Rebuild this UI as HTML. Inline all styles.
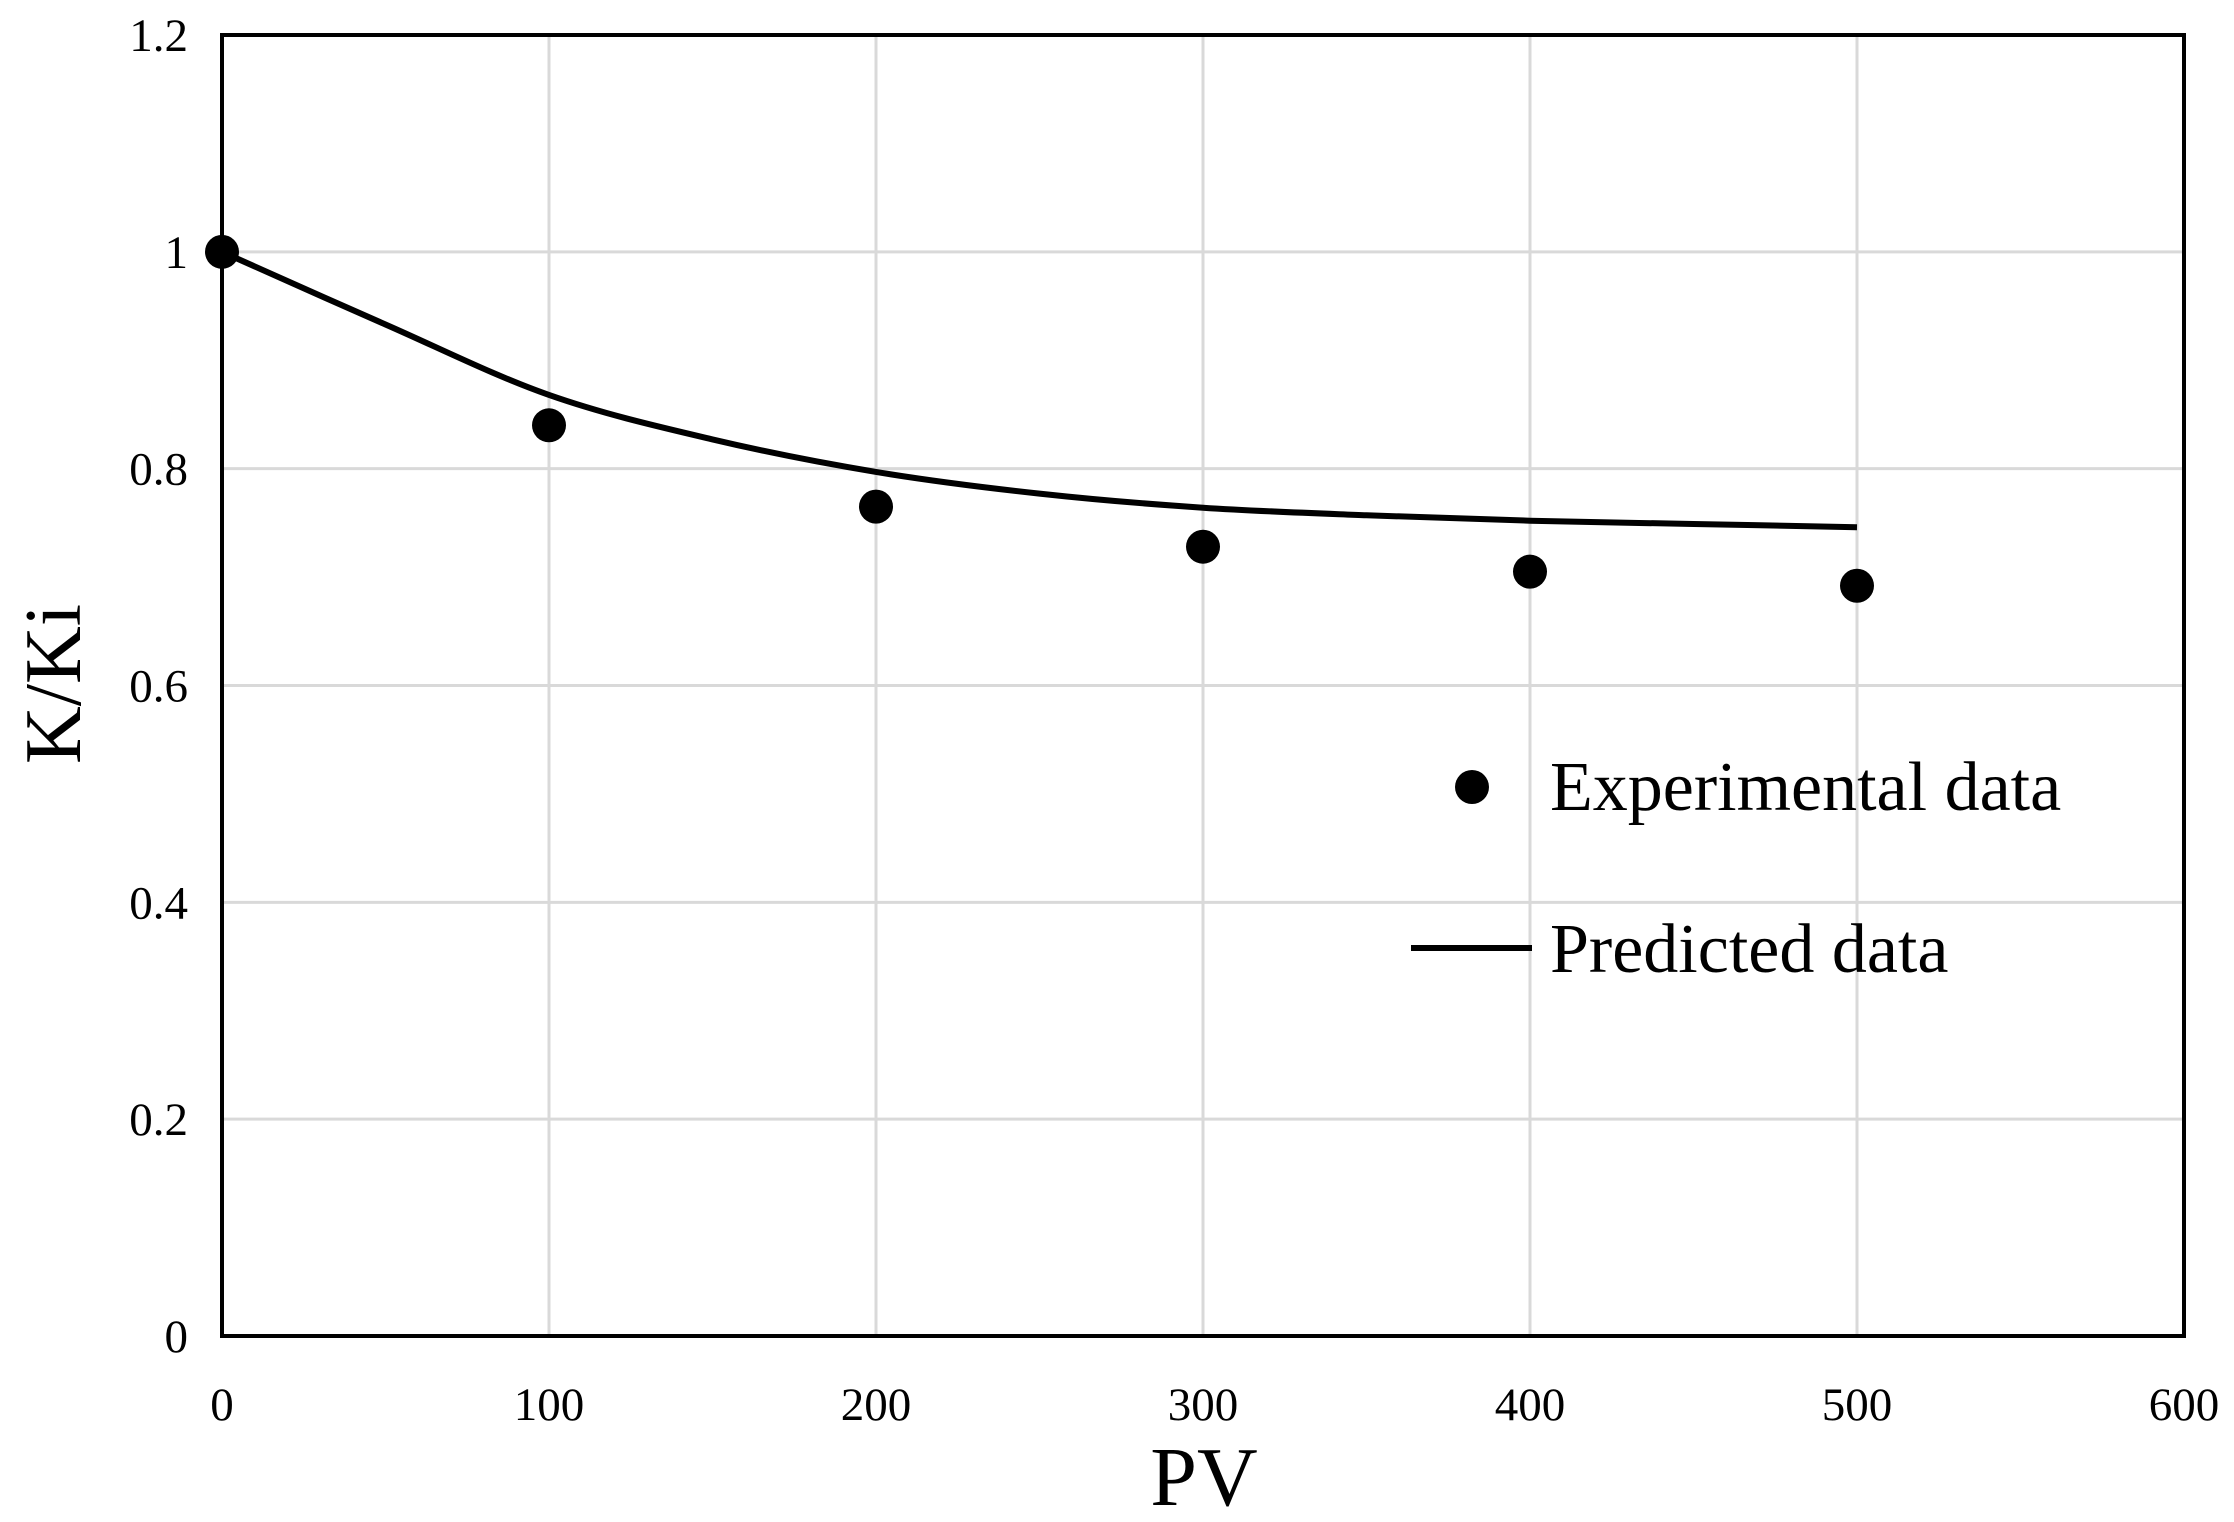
<!DOCTYPE html>
<html><head><meta charset="utf-8"><style>
html,body{margin:0;padding:0;background:#fff;}
svg{display:block;font-family:"Liberation Serif",serif;}
</style></head><body>
<svg id="chart" width="2234" height="1522" viewBox="0 0 2234 1522" xmlns="http://www.w3.org/2000/svg">
<rect width="2234" height="1522" fill="#fff"/>
<g id="grid"></g>
<g id="ticks"></g>
<g id="series"></g>
<rect x="222" y="35" width="1962" height="1301" fill="none" stroke="#000" stroke-width="4"/>
<text x="1204" y="1505" font-size="84" text-anchor="middle">PV</text>
<text transform="translate(80,684) rotate(-90)" font-size="80" text-anchor="middle">K/Ki</text>
<g>
<circle cx="1472" cy="787" r="17" fill="#000"/>
<text x="1550" y="810" font-size="70">Experimental data</text>
<line x1="1411" y1="948" x2="1532" y2="948" stroke="#000" stroke-width="6"/>
<text x="1550" y="972" font-size="70">Predicted data</text>
</g>
</svg>
<script>
const xTicks=[0,100,200,300,400,500,600];
const yTicks=[0,0.2,0.4,0.6,0.8,1,1.2];
const yTickLabels=["0","0.2","0.4","0.6","0.8","1","1.2"];
const expX=[0,100,200,300,400,500];
const expY=[1.0,0.84,0.765,0.728,0.705,0.692];
const predX=[0,50,100,150,200,250,300,350,400,450,500];
const predY=[1.0,0.933,0.868,0.827,0.797,0.777,0.764,0.757,0.752,0.749,0.746];
const NS="http://www.w3.org/2000/svg";
function sx(v){return 222+v/600*1962;}
function sy(v){return 1336-v/1.2*1301;}
function mk(t,a,p){const e=document.createElementNS(NS,t);for(const k in a)e.setAttribute(k,a[k]);p.appendChild(e);return e;}
const grid=document.getElementById('grid'),ticks=document.getElementById('ticks'),series=document.getElementById('series');
xTicks.forEach(v=>{
  const l=mk('line',{x1:sx(v),x2:sx(v),y1:35,y2:1336,stroke:'#d9d9d9','stroke-width':3},grid);
  
  
  const t=mk('text',{x:sx(v),y:1420,'font-size':47,'text-anchor':'middle'},ticks);
  t.textContent=String(v);
  
  
});
yTicks.forEach((v,i)=>{
  const l=mk('line',{x1:222,x2:2184,y1:sy(v),y2:sy(v),stroke:'#d9d9d9','stroke-width':3},grid);
  
  
  const t=mk('text',{x:188,y:sy(v)+16,'font-size':47,'text-anchor':'end'},ticks);
  t.textContent=yTickLabels[i];
  
  
});
const pts=predX.map((x,i)=>[sx(x),sy(predY[i])]);
let d='M'+pts[0][0]+','+pts[0][1];
for(let i=0;i<pts.length-1;i++){
  const p0=pts[Math.max(0,i-1)],p1=pts[i],p2=pts[i+1],p3=pts[Math.min(pts.length-1,i+2)];
  const c1=[p1[0]+(p2[0]-p0[0])/6,p1[1]+(p2[1]-p0[1])/6];
  const c2=[p2[0]-(p3[0]-p1[0])/6,p2[1]-(p3[1]-p1[1])/6];
  d+=' C'+c1[0]+','+c1[1]+' '+c2[0]+','+c2[1]+' '+p2[0]+','+p2[1];
}
const path=mk('path',{d:d,fill:'none',stroke:'#000','stroke-width':6},series);


expX.forEach((x,i)=>{
  const c=mk('circle',{cx:sx(x),cy:sy(expY[i]),r:17,fill:'#000'},series);
  
  
});
</script>
</body></html>
